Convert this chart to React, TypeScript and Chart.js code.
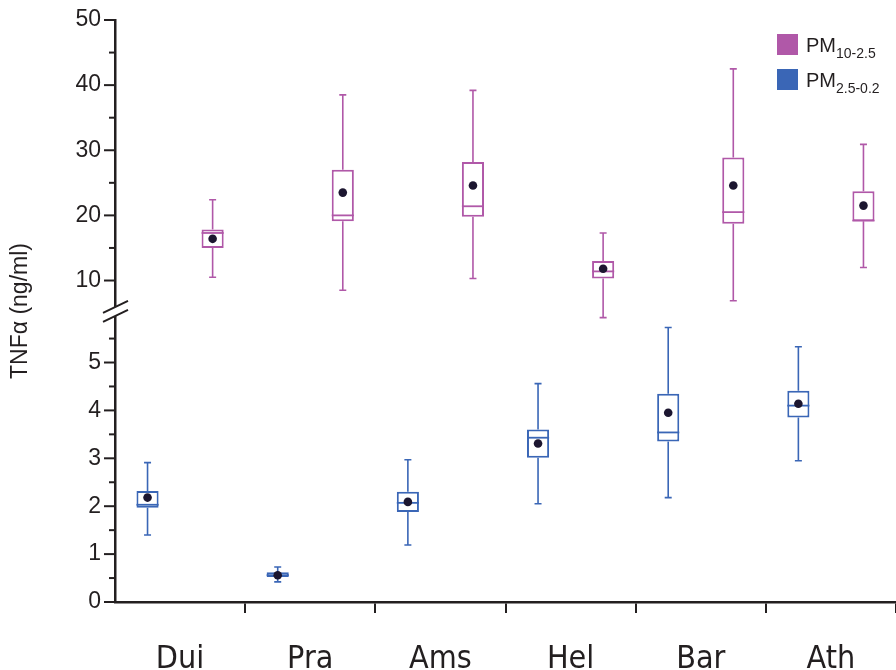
import React, { useEffect, useRef } from 'react';
import { Chart, registerables } from 'chart.js';

Chart.register(...registerables);

const categories = ['Dui', 'Pra', 'Ams', 'Hel', 'Bar', 'Ath'];

// PM10-2.5 (upper axis segment), ng/ml
const coarseWhiskerHigh = [22.4, 38.5, 39.2, 17.3, 42.5, 30.9];
const coarseQ3 = [17.85, 27.0, 28.2, 13.0, 28.9, 23.7];
const coarseMedian = [17.3, 20.0, 21.4, 11.4, 20.5, 19.2];
const coarseQ1 = [15.0, 19.1, 19.8, 10.3, 18.7, 19.1];
const coarseWhiskerLow = [10.5, 8.5, 10.3, 4.3, 6.9, 12.0];
const coarseMean = [16.4, 23.5, 24.6, 11.8, 24.6, 21.5];

// PM2.5-0.2 (lower axis segment), ng/ml
const fineWhiskerHigh = [2.91, 0.73, 2.97, 4.56, 5.73, 5.33];
const fineQ3 = [2.32, 0.62, 2.3, 3.6, 4.35, 4.41];
const fineMedian = [2.03, 0.56, 2.07, 3.43, 3.54, 4.1];
const fineQ1 = [1.97, 0.52, 1.88, 3.01, 3.35, 3.85];
const fineWhiskerLow = [1.4, 0.42, 1.19, 2.05, 2.18, 2.95];
const fineMean = [2.18, 0.56, 2.09, 3.31, 3.95, 4.14];

const upperTicks = [10, 15, 20, 25, 30, 35, 40, 45, 50];
const lowerTicks = [0, 0.5, 1, 1.5, 2, 2.5, 3, 3.5, 4, 4.5, 5, 5.5];

const PURPLE = '#b058a8';
const BLUE = '#3a66b6';
const INK = '#231f20';
const FONT = '"Liberation Sans", Arial, Helvetica, sans-serif';
const NARROW = '"Liberation Sans Narrow", "Arial Narrow", "DejaVu Sans Condensed", sans-serif';

const boxExtras = {
  id: 'boxExtras',
  afterDatasetsDraw(chart: any) {
    const ctx = chart.ctx;
    const groups = [
      { ds: 0, scale: chart.scales.yBot, color: BLUE, hi: fineWhiskerHigh, q3: fineQ3, med: fineMedian, q1: fineQ1, lo: fineWhiskerLow, mean: fineMean },
      { ds: 1, scale: chart.scales.yTop, color: PURPLE, hi: coarseWhiskerHigh, q3: coarseQ3, med: coarseMedian, q1: coarseQ1, lo: coarseWhiskerLow, mean: coarseMean },
    ];
    ctx.save();
    for (const g of groups) {
      const meta = chart.getDatasetMeta(g.ds);
      meta.data.forEach((bar: any, i: number) => {
        const { x, width } = bar.getProps(['x', 'width'], true);
        const s = g.scale;
        const yHi = s.getPixelForValue(g.hi[i]);
        const yQ3 = s.getPixelForValue(g.q3[i]);
        const yMed = s.getPixelForValue(g.med[i]);
        const yQ1 = s.getPixelForValue(g.q1[i]);
        const yLo = s.getPixelForValue(g.lo[i]);
        const yMean = s.getPixelForValue(g.mean[i]);
        ctx.strokeStyle = g.color;
        ctx.lineWidth = 1.6;
        ctx.beginPath();
        ctx.moveTo(x, yQ3);
        ctx.lineTo(x, yHi);
        ctx.moveTo(x - 3.5, yHi);
        ctx.lineTo(x + 3.5, yHi);
        ctx.moveTo(x, yQ1);
        ctx.lineTo(x, yLo);
        ctx.moveTo(x - 3.5, yLo);
        ctx.lineTo(x + 3.5, yLo);
        ctx.stroke();
        ctx.lineWidth = 1.8;
        ctx.beginPath();
        ctx.moveTo(x - width / 2, yMed);
        ctx.lineTo(x + width / 2, yMed);
        ctx.stroke();
        ctx.fillStyle = '#1c1630';
        ctx.beginPath();
        ctx.arc(x, yMean, 4.3, 0, Math.PI * 2);
        ctx.fill();
      });
    }
    ctx.restore();
  },
};

const axisExtras = {
  id: 'axisExtras',
  afterDraw(chart: any) {
    const ctx = chart.ctx;
    const left = chart.chartArea.left;
    ctx.save();
    ctx.strokeStyle = INK;
    ctx.lineWidth = 2;
    const marks = [
      { scale: chart.scales.yTop, values: upperTicks, major: (v: number) => v % 10 === 0 },
      { scale: chart.scales.yBot, values: lowerTicks, major: (v: number) => Number.isInteger(v) },
    ];
    for (const m of marks) {
      for (const v of m.values) {
        const y = m.scale.getPixelForValue(v);
        const len = m.major(v) ? 11 : 6;
        ctx.beginPath();
        ctx.moveTo(left - len, y);
        ctx.lineTo(left + 1, y);
        ctx.stroke();
      }
    }
    // axis break
    const yb = (chart.scales.yTop.bottom + chart.scales.yBot.top) / 2;
    ctx.fillStyle = '#ffffff';
    ctx.beginPath();
    ctx.moveTo(left - 12, yb + 3);
    ctx.lineTo(left + 13, yb - 9);
    ctx.lineTo(left + 13, yb);
    ctx.lineTo(left - 12, yb + 12);
    ctx.closePath();
    ctx.fill();
    ctx.lineWidth = 2;
    ctx.beginPath();
    ctx.moveTo(left - 12, yb + 3);
    ctx.lineTo(left + 13, yb - 9);
    ctx.moveTo(left - 12, yb + 12);
    ctx.lineTo(left + 13, yb);
    ctx.stroke();

    // y title
    ctx.fillStyle = INK;
    ctx.font = `23px ${FONT}`;
    ctx.textAlign = 'center';
    ctx.textBaseline = 'middle';
    ctx.translate(21, 311);
    ctx.rotate(-Math.PI / 2);
    ctx.fillText('TNFα (ng/ml)', 0, 0);
    ctx.restore();

    // legend
    ctx.save();
    const items = [
      { color: PURPLE, main: 'PM', sub: '10-2.5', y: 34 },
      { color: BLUE, main: 'PM', sub: '2.5-0.2', y: 69 },
    ];
    for (const it of items) {
      ctx.fillStyle = it.color;
      ctx.fillRect(777, it.y, 21, 21);
      ctx.fillStyle = INK;
      ctx.textAlign = 'left';
      ctx.textBaseline = 'alphabetic';
      ctx.font = `20px ${FONT}`;
      ctx.fillText(it.main, 806, it.y + 18);
      const w = ctx.measureText(it.main).width;
      ctx.font = `14px ${FONT}`;
      ctx.fillText(it.sub, 806 + w, it.y + 24);
    }
    ctx.restore();
  },
};

export default function App() {
  const canvasRef = useRef<HTMLCanvasElement | null>(null);

  useEffect(() => {
    document.body.style.overflow = 'hidden';
    const canvas = canvasRef.current;
    if (!canvas) return;
    const fitY = (s: any) => {
      s.width = 115;
      s.paddingTop = 0;
      s.paddingBottom = 0;
    };
    const chart = new Chart(canvas, {
      type: 'bar',
      data: {
        labels: categories,
        datasets: [
          {
            label: 'PM2.5-0.2',
            data: categories.map((_, i) => [fineQ1[i], fineQ3[i]]) as any,
            yAxisID: 'yBot',
            backgroundColor: '#ffffff',
            borderColor: BLUE,
            borderWidth: 2,
            borderSkipped: false,
            categoryPercentage: 1.0,
            barPercentage: 0.34,
          },
          {
            label: 'PM10-2.5',
            data: categories.map((_, i) => [coarseQ1[i], coarseQ3[i]]) as any,
            yAxisID: 'yTop',
            backgroundColor: '#ffffff',
            borderColor: PURPLE,
            borderWidth: 2,
            borderSkipped: false,
            categoryPercentage: 1.0,
            barPercentage: 0.34,
          },
        ],
      },
      options: {
        responsive: false,
        animation: false,
        devicePixelRatio: 1,
        layout: { padding: { top: 20, left: 0, right: 0, bottom: 0 } },
        plugins: {
          legend: { display: false },
          tooltip: { enabled: false },
        },
        scales: {
          x: {
            type: 'category',
            offset: true,
            grid: {
              display: true,
              offset: true,
              drawOnChartArea: false,
              drawTicks: true,
              tickLength: 11,
              lineWidth: 2,
              color: (c: any) => (c.index === 0 ? 'rgba(0,0,0,0)' : INK),
            },
            border: { display: true, color: INK, width: 2.5 },
            ticks: {
              color: INK,
              font: { size: 32, family: NARROW },
              padding: 27,
              maxRotation: 0,
              autoSkip: false,
            },
            afterFit: (s: any) => {
              s.height = 68;
            },
          },
          yBot: {
            type: 'linear',
            position: 'left',
            stack: 'tnf',
            stackWeight: 291.6,
            min: 0,
            max: 6.1,
            grid: { display: false, drawTicks: false },
            border: { display: true, color: INK, width: 2.5 },
            ticks: {
              stepSize: 0.5,
              color: INK,
              font: { size: 23, family: FONT },
              padding: 14,
              callback: (v: any) => (Number.isInteger(v) ? String(v) : ''),
            },
            afterBuildTicks: (s: any) => {
              s.ticks = lowerTicks.map((v) => ({ value: v }));
            },
            afterFit: fitY,
          },
          yTop: {
            type: 'linear',
            position: 'left',
            stack: 'tnf',
            stackWeight: 289.25,
            min: 5.5,
            max: 50,
            grid: { display: false, drawTicks: false },
            border: { display: true, color: INK, width: 2.5 },
            ticks: {
              stepSize: 5,
              color: INK,
              font: { size: 23, family: FONT },
              padding: 14,
              callback: (v: any) => (v % 10 === 0 ? String(v) : ''),
            },
            afterBuildTicks: (s: any) => {
              s.ticks = upperTicks.map((v) => ({ value: v }));
            },
            afterFit: fitY,
          },
        },
      } as any,
      plugins: [boxExtras, axisExtras],
    });
    return () => chart.destroy();
  }, []);

  return (
    <div style={{ position: 'fixed', left: 0, top: 0, width: 896, height: 670, overflow: 'hidden', background: '#ffffff' }}>
      <canvas ref={canvasRef} width={896} height={670} style={{ display: 'block' }} />
    </div>
  );
}
